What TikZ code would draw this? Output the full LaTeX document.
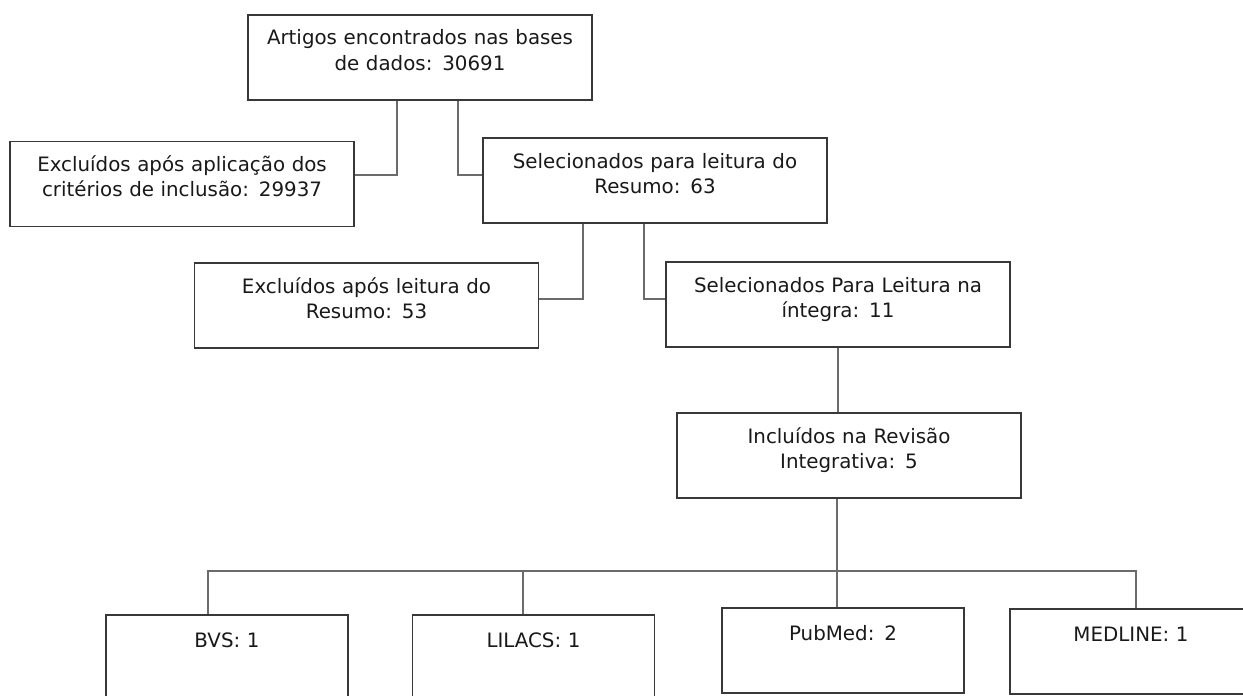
\documentclass[tikz,border=0pt]{standalone}
\usepackage{fontspec}
\setmainfont{DejaVu Sans}
\begin{document}
\begin{tikzpicture}[x=0.5bp, y=-0.5bp,
    caixa/.style={draw=black!78, line width=0.75bp, text=black!90,
        inner xsep=1bp, inner ysep=0pt, text width=170bp, minimum width=172bp,
        align=center, text height=15bp, text depth=27.5bp,
        font=\fontsize{9.95}{12.75}\selectfont},
    base/.style={caixa, text width=119bp, minimum width=121bp,
        text height=16bp, text depth=26.5bp},
    liga/.style={draw=black!58, line width=0.75bp}]
    \useasboundingbox (0,0) rectangle (1243,695);
    \clip (0,0) rectangle (1243,695);
    \node[caixa] (artigos) at (420,57.5) {Artigos encontrados nas bases\\de dados: 30691};
    \node[caixa] (excl1) at (182,184) {Excluídos após aplicação dos\\critérios de inclusão: 29937};
    \node[caixa] (sel1) at (655,180.5) {Selecionados para leitura do\\Resumo: 63};
    \node[caixa] (excl2) at (366.5,305.5) {Excluídos após leitura do\\Resumo: 53};
    \node[caixa] (sel2) at (838,304.5) {Selecionados Para Leitura na\\íntegra: 11};
    \node[caixa] (incl) at (849,455.5) {Incluídos na Revisão\\Integrativa: 5};
    \node[base] (bvs) at (227,657.5) {BVS: 1};
    \node[base] (lilacs) at (533.5,657.5) {LILACS: 1};
    \node[base] (pubmed) at (843,650.5) {PubMed: 2};
    \node[base] (medline) at (1131,651.5) {MEDLINE: 1};
    \draw[liga] ([xshift=-11.5bp]artigos.south) |- ([yshift=4.5bp]excl1.east);
    \draw[liga] ([xshift=19bp]artigos.south) |- ([yshift=2.75bp]sel1.west);
    \draw[liga] ([xshift=-36bp]sel1.south) |- ([yshift=3.25bp]excl2.east);
    \draw[liga] ([xshift=-5.5bp]sel1.south) |- ([yshift=2.75bp]sel2.west);
    \draw[liga] (sel2.south) -- (sel2.south |- incl.north);
    \coordinate (tronco) at (837,571);
    \draw[liga] (tronco |- incl.south) -- (tronco |- pubmed.north);
    \draw[liga] ([xshift=-9.5bp]bvs.north) |- (tronco) -| ([xshift=2.5bp]medline.north);
    \draw[liga] ([xshift=-5.25bp]lilacs.north) -- ([xshift=-5.25bp]lilacs.north |- tronco);
\end{tikzpicture}
\end{document}
